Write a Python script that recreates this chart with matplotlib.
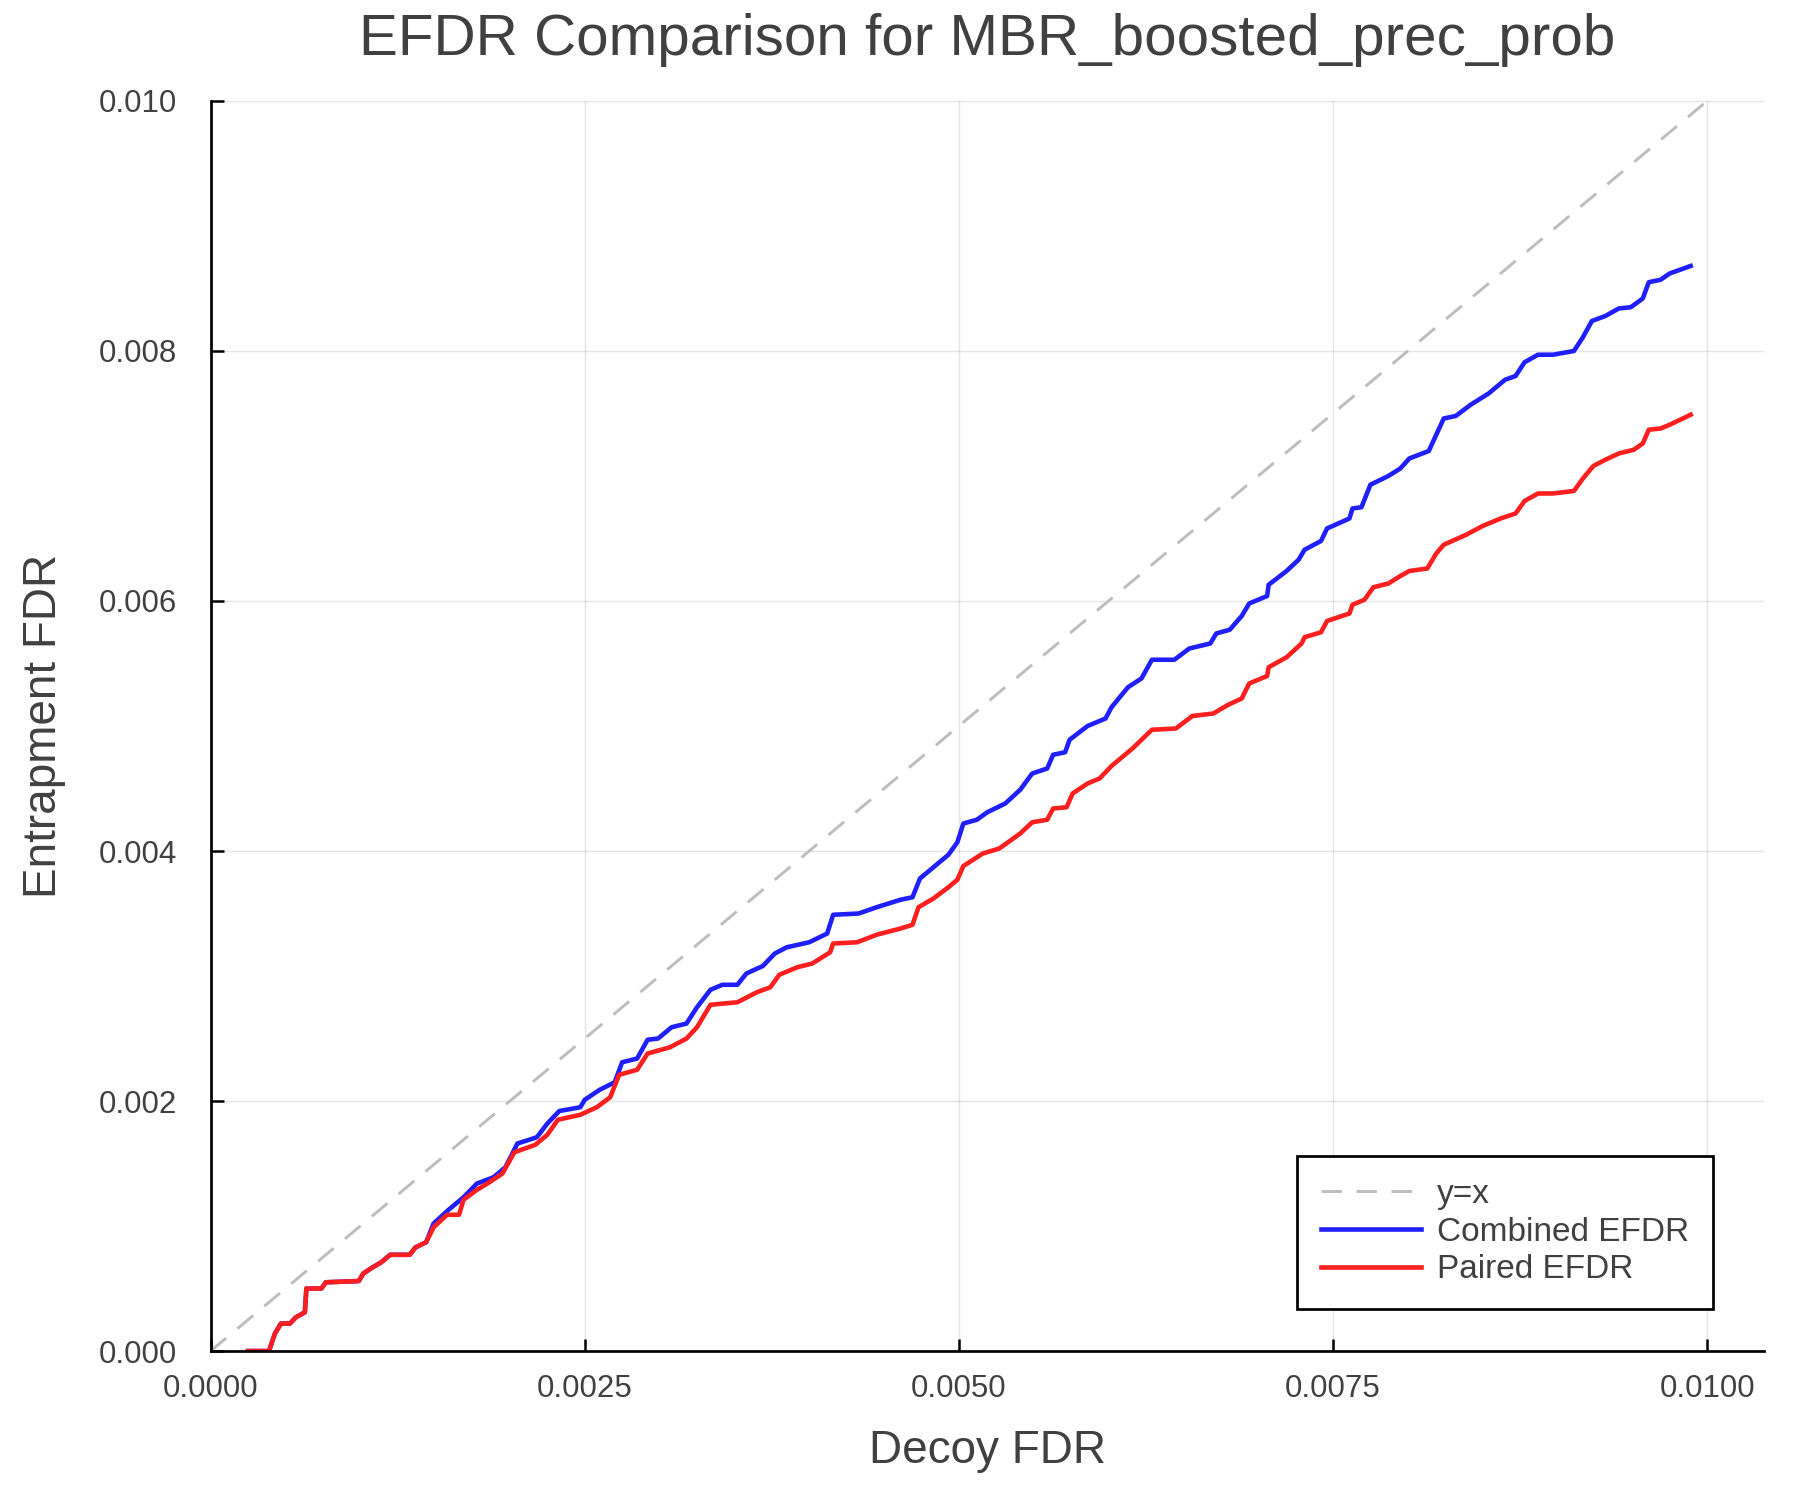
import numpy as np
import matplotlib
matplotlib.use("Agg")
import matplotlib.pyplot as plt
from matplotlib.ticker import FormatStrFormatter

plt.rcParams['font.family'] = ['Liberation Sans', 'DejaVu Sans']

# values, in units of 1e-3
combined_x = [0.25, 0.39, 0.43, 0.47, 0.53, 0.57, 0.63, 0.64, 0.74, 0.77, 0.99, 1.02, 1.07, 1.14,
              1.20, 1.33, 1.37, 1.44, 1.49, 1.59, 1.69, 1.78, 1.89, 1.97, 2.05, 2.18, 2.25, 2.33,
              2.47, 2.50, 2.60, 2.70, 2.75, 2.85, 2.92, 2.99, 3.08, 3.18, 3.25, 3.34, 3.42, 3.52,
              3.58, 3.69, 3.77, 3.85, 4.00, 4.12, 4.16, 4.33, 4.45, 4.61, 4.69, 4.74, 4.83, 4.93,
              4.99, 5.03, 5.12, 5.19, 5.31, 5.41, 5.49, 5.59, 5.63, 5.71, 5.74, 5.86, 5.98, 6.02,
              6.13, 6.22, 6.29, 6.44, 6.54, 6.68, 6.72, 6.81, 6.89, 6.94, 7.06, 7.07, 7.19, 7.27,
              7.31, 7.42, 7.46, 7.61, 7.63, 7.69, 7.75, 7.87, 7.95, 8.01, 8.14, 8.19, 8.24, 8.32,
              8.42, 8.54, 8.65, 8.72, 8.78, 8.87, 8.97, 9.11, 9.17, 9.23, 9.32, 9.41, 9.49, 9.57,
              9.61, 9.69, 9.75, 9.89]
combined_y = [0, 0, 0.14, 0.22, 0.22, 0.27, 0.31, 0.50, 0.50, 0.55, 0.56, 0.62, 0.66, 0.71,
              0.77, 0.77, 0.83, 0.87, 1.02, 1.13, 1.23, 1.34, 1.39, 1.47, 1.66, 1.71, 1.82, 1.92,
              1.95, 2.01, 2.09, 2.15, 2.31, 2.34, 2.49, 2.50, 2.59, 2.62, 2.75, 2.89, 2.93, 2.93,
              3.02, 3.08, 3.18, 3.23, 3.27, 3.34, 3.49, 3.50, 3.55, 3.61, 3.63, 3.78, 3.87, 3.97,
              4.07, 4.22, 4.25, 4.31, 4.38, 4.49, 4.62, 4.66, 4.77, 4.79, 4.89, 5.00, 5.06, 5.15,
              5.31, 5.38, 5.53, 5.53, 5.62, 5.66, 5.74, 5.77, 5.88, 5.98, 6.04, 6.13, 6.24, 6.33,
              6.41, 6.48, 6.58, 6.66, 6.74, 6.75, 6.93, 7.00, 7.06, 7.14, 7.20, 7.33, 7.46, 7.48,
              7.57, 7.66, 7.77, 7.80, 7.91, 7.97, 7.97, 8.00, 8.11, 8.24, 8.28, 8.34, 8.35, 8.42,
              8.55, 8.57, 8.62, 8.68]

paired_x = [0.25, 0.39, 0.43, 0.47, 0.53, 0.57, 0.63, 0.64, 0.74, 0.77, 0.99, 1.02, 1.07, 1.14,
            1.20, 1.33, 1.37, 1.44, 1.49, 1.58, 1.66, 1.69, 1.78, 1.85, 1.95, 2.03, 2.17, 2.25,
            2.32, 2.47, 2.58, 2.67, 2.73, 2.85, 2.92, 3.07, 3.18, 3.25, 3.34, 3.52, 3.65, 3.74,
            3.80, 3.92, 4.02, 4.14, 4.16, 4.32, 4.45, 4.61, 4.69, 4.73, 4.83, 4.93, 4.99, 5.03,
            5.16, 5.27, 5.41, 5.49, 5.59, 5.63, 5.72, 5.76, 5.86, 5.94, 6.02, 6.16, 6.29, 6.45,
            6.56, 6.70, 6.80, 6.89, 6.94, 7.06, 7.07, 7.19, 7.29, 7.31, 7.42, 7.46, 7.61, 7.63,
            7.71, 7.77, 7.87, 7.95, 8.01, 8.13, 8.19, 8.24, 8.39, 8.50, 8.62, 8.72, 8.78, 8.87,
            8.97, 9.11, 9.17, 9.24, 9.32, 9.41, 9.51, 9.57, 9.61, 9.69, 9.75, 9.89]
paired_y = [0, 0, 0.14, 0.22, 0.22, 0.27, 0.31, 0.50, 0.50, 0.55, 0.56, 0.62, 0.66, 0.71,
            0.77, 0.77, 0.83, 0.87, 0.99, 1.09, 1.09, 1.21, 1.29, 1.34, 1.42, 1.59, 1.65, 1.73,
            1.85, 1.89, 1.95, 2.03, 2.21, 2.25, 2.38, 2.43, 2.50, 2.59, 2.77, 2.79, 2.87, 2.91,
            3.01, 3.07, 3.10, 3.19, 3.26, 3.27, 3.33, 3.38, 3.41, 3.55, 3.62, 3.71, 3.77, 3.88,
            3.98, 4.02, 4.14, 4.23, 4.25, 4.34, 4.35, 4.46, 4.54, 4.58, 4.68, 4.82, 4.97, 4.98,
            5.08, 5.10, 5.17, 5.22, 5.34, 5.40, 5.47, 5.55, 5.66, 5.71, 5.75, 5.84, 5.90, 5.97,
            6.01, 6.11, 6.14, 6.20, 6.24, 6.26, 6.38, 6.45, 6.53, 6.60, 6.66, 6.70, 6.80, 6.86,
            6.86, 6.88, 6.98, 7.08, 7.13, 7.18, 7.21, 7.26, 7.37, 7.38, 7.41, 7.49]

diag = [0.0, 0.01]
xticks = [0.0, 0.0025, 0.005, 0.0075, 0.01]
yticks = [0.0, 0.002, 0.004, 0.006, 0.008, 0.010]

text_col = '#404040'

fig = plt.figure(figsize=(12, 10), dpi=150)
ax = fig.add_axes([0.117, 0.0993, 0.863, 0.8334])

ax.plot(diag, diag, color='#bdbdbd', lw=1.4, ls=(0, (7, 5)), label='y=x')
ax.plot(np.array(combined_x) * 1e-3, np.array(combined_y) * 1e-3, color='#1f1fff', lw=2.2,
        label='Combined EFDR')
ax.plot(np.array(paired_x) * 1e-3, np.array(paired_y) * 1e-3, color='#ff1f1f', lw=2.2,
        label='Paired EFDR')

ax.set_xlim(0, 0.01038)
ax.set_ylim(0, 0.010)
ax.set_xticks(xticks)
ax.set_yticks(yticks)
ax.xaxis.set_major_formatter(FormatStrFormatter('%.4f'))
ax.yaxis.set_major_formatter(FormatStrFormatter('%.3f'))
ax.tick_params(direction='in', length=6, width=1.2, labelsize=15, colors='black',
               labelcolor=text_col)
ax.tick_params(axis='x', pad=11)
ax.tick_params(axis='y', pad=16)
ax.grid(True, color='#000000', alpha=0.1, lw=0.7)
for s in ['top', 'right']:
    ax.spines[s].set_visible(False)
for s in ['left', 'bottom']:
    ax.spines[s].set_linewidth(1.3)

ax.set_xlabel('Decoy FDR', fontsize=22, color=text_col, labelpad=12)
ax.set_ylabel('Entrapment FDR', fontsize=22, color=text_col, labelpad=16)
ax.set_title('EFDR Comparison for MBR_boosted_prec_prob', fontsize=28, color=text_col, pad=22)

leg = ax.legend(loc='lower right', bbox_to_anchor=(0.967, 0.034), borderaxespad=0,
                fontsize=16, fancybox=False, framealpha=1, edgecolor='black',
                handlelength=3.0, handletextpad=0.5, labelspacing=0.2, borderpad=0.7)
leg.get_frame().set_linewidth(1.3)
for t in leg.get_texts():
    t.set_color(text_col)

fig.savefig('out.png', dpi=150)
